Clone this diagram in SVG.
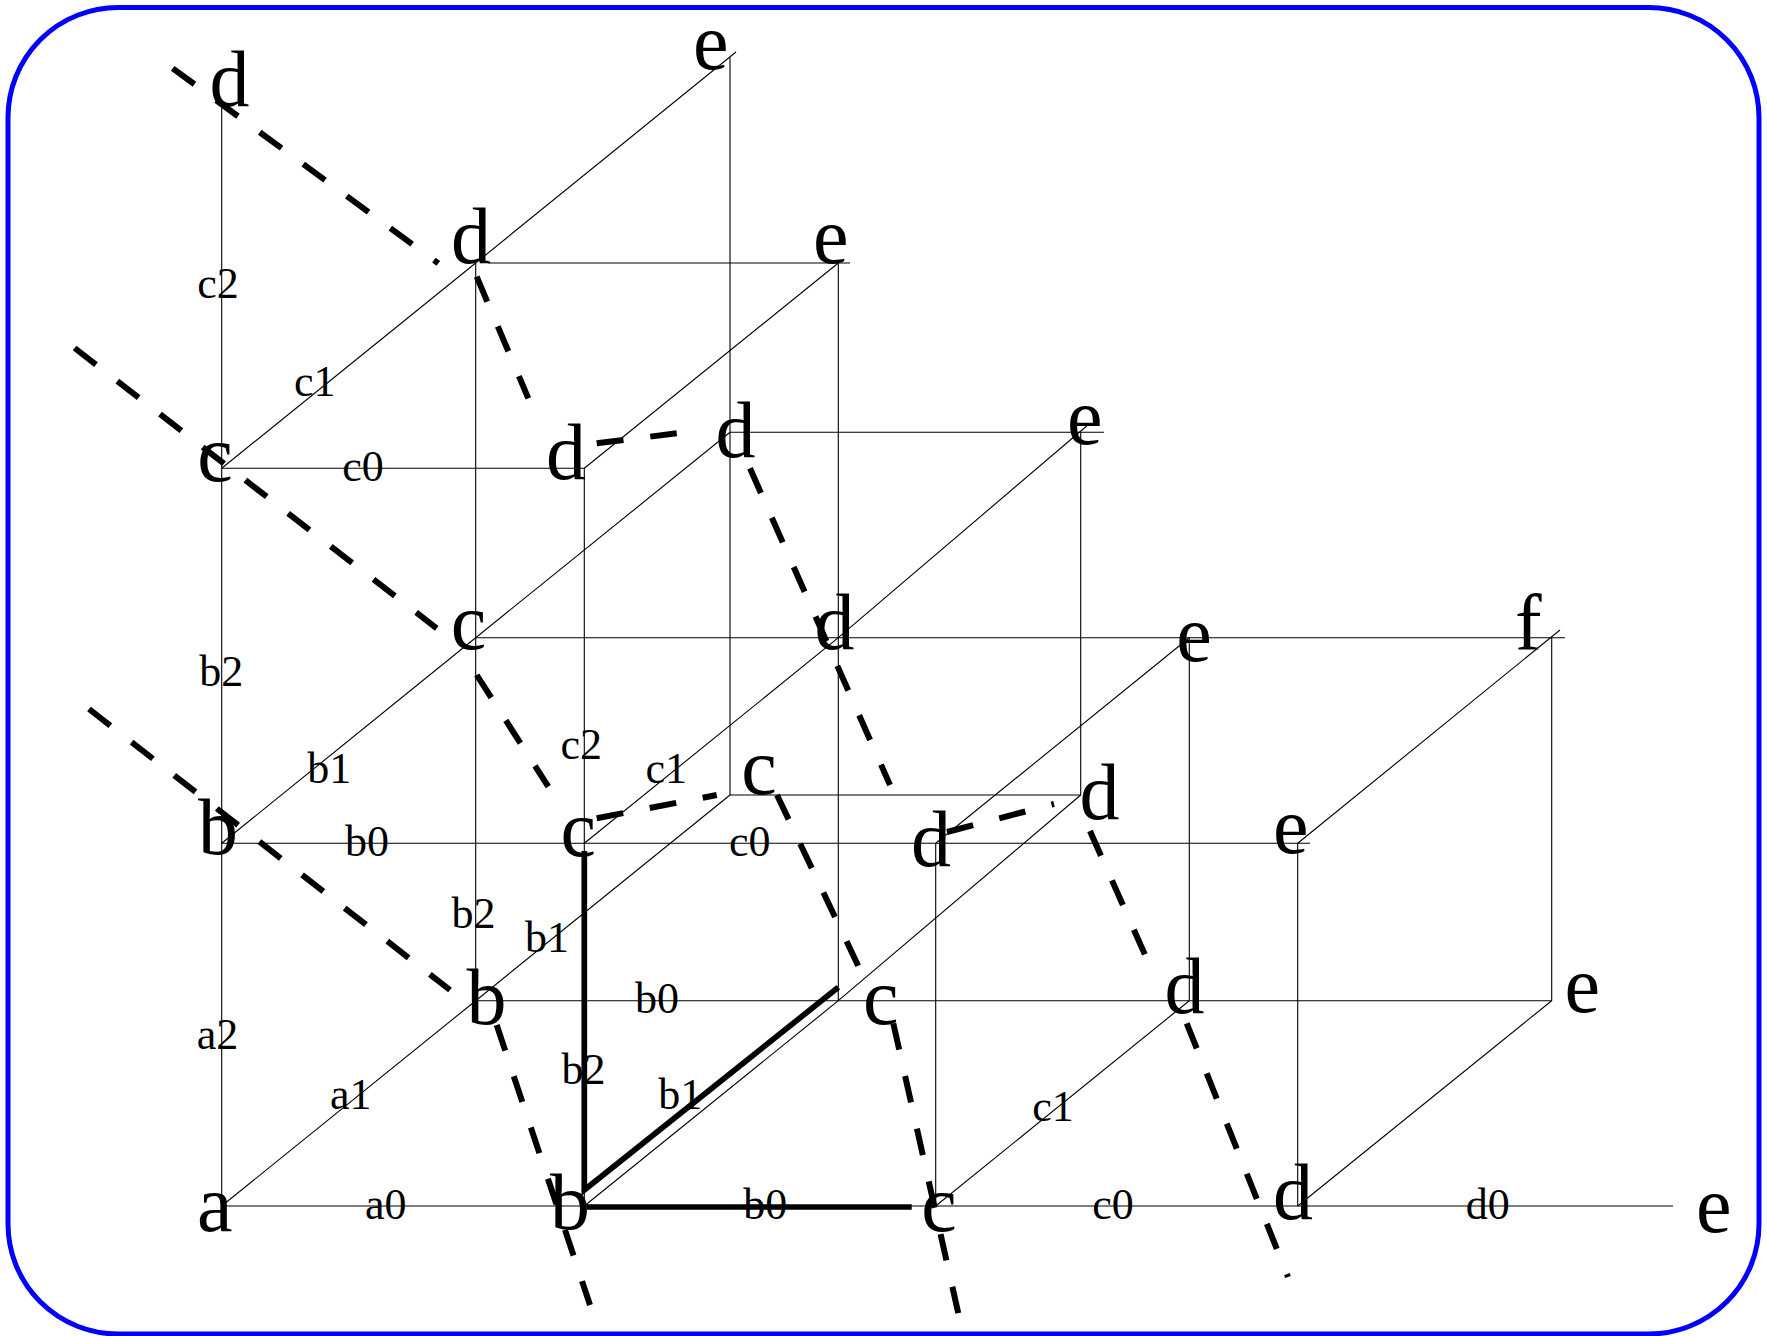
<svg xmlns="http://www.w3.org/2000/svg" width="1767" height="1336" viewBox="0 0 1767 1336">
<style>
.e{stroke:#000;stroke-width:1.1;fill:none}
.t{stroke:#000;stroke-width:5.7;fill:none;stroke-linejoin:miter}
.k{stroke:#000;stroke-width:6;stroke-dasharray:27 27;fill:none}
.v{font-family:"Liberation Serif","Times New Roman",serif;font-size:80px;fill:#000}
.l{font-family:"Liberation Serif","Times New Roman",serif;font-size:44px;fill:#000}
</style>
<rect x="8" y="7.5" width="1751" height="1326.5" rx="110" ry="110" fill="#fff" stroke="#0000ff" stroke-width="5"/>
<g id="connectors">
<path class="e" d="M221.7 1206H1673M475.7 1000.7H1551.7M730 795H1080.7M221.7 843.3H1310M475.7 637.7H1565M730 432.3H1104M221.7 468.3H585M488 263H850"/>
<path class="e" d="M221.7 108V1206M584.3 468.3V1206M935.7 843.3V1206M1297.7 843.3V1206M475.7 263V1000.7M838.3 263V1000.7M1189.3 637.7V1000.7M1551.7 637.7V1000.7M730 57.3V795M1080.7 432.3V795"/>
<path class="e" d="M221.7 1206L475.7 1000.7L730 795M584.3 1206L838.3 1000.7L1080.7 795M935.7 1206L1189.3 1000.7M1297.7 1206L1551.7 1000.7M221.7 843.3L475.7 637.7L730 432.3M584.3 843.3L838.3 637.7L1086.7 426M935.7 843.3L1189.3 637.7M1297.7 843.3L1560 630M221.7 468.3L475.7 263L736 52M584.3 468.3L838.3 263"/>
<path class="t" d="M584.3 851V1190L838.3 987.3M586.7 1207H911.7"/>
<g id="cut-d">
<line class="k" x1="172.7" y1="68.3" x2="438.3" y2="263.3"/>
<line class="k" x1="476.7" y1="276.7" x2="528.3" y2="398.3"/>
<line class="k" x1="596.7" y1="443.3" x2="676.7" y2="433.3"/>
<line class="k" x1="750" y1="468.3" x2="890" y2="785"/>
<line class="k" x1="947" y1="832" x2="1054" y2="804"/>
<line class="k" x1="1090" y1="831" x2="1146" y2="957"/>
<line class="k" x1="1186.7" y1="1023.3" x2="1288" y2="1277"/>
</g>
<g id="cut-c">
<line class="k" x1="74.6" y1="348" x2="436.7" y2="628.3"/>
<line class="k" x1="476.7" y1="675" x2="548.3" y2="786.7"/>
<line class="k" x1="596.7" y1="818.3" x2="716.7" y2="795"/>
<line class="k" x1="777" y1="795" x2="858.3" y2="966"/>
<line class="k" x1="893.3" y1="1023.3" x2="958.3" y2="1313.3"/>
</g>
<g id="cut-b">
<line class="k" x1="89" y1="709" x2="450" y2="990"/>
<line class="k" x1="496.7" y1="1025" x2="590" y2="1305"/>
</g>
<g id="edge-labels" class="l">
<text x="197.2" y="297.7">c2</text>
<text x="293.9" y="396">c1</text>
<text x="342.2" y="481">c0</text>
<text x="199.2" y="686">b2</text>
<text x="307.2" y="782.7">b1</text>
<text x="344.9" y="856">b0</text>
<text x="560.6" y="759.4">c2</text>
<text x="645.6" y="782.7">c1</text>
<text x="728.9" y="856">c0</text>
<text x="196.7" y="1049.4">a2</text>
<text x="330.1" y="1109.4">a1</text>
<text x="365.1" y="1219.4">a0</text>
<text x="451.6" y="927.7">b2</text>
<text x="524.9" y="952.4">b1</text>
<text x="634.9" y="1012.7">b0</text>
<text x="561.6" y="1084.4">b2</text>
<text x="658.2" y="1109.4">b1</text>
<text x="743.2" y="1219.4">b0</text>
<text x="1032.2" y="1121">c1</text>
<text x="1092.2" y="1219.4">c0</text>
<text x="1465.8" y="1218.5">d0</text>
</g>
</g>
<g id="n000" class="v"><text x="197" y="1231">a</text></g>
<g id="n100" class="v"><text x="550" y="1229">b</text></g>
<g id="n010" class="v"><text x="466.5" y="1024">b</text></g>
<g id="n001" class="v"><text x="198" y="854">b</text></g>
<g id="n200" class="v"><text x="921.3" y="1231">c</text></g>
<g id="n110" class="v"><text x="863" y="1024">c</text></g>
<g id="n020" class="v"><text x="741.3" y="794">c</text></g>
<g id="n101" class="v"><text x="560.6" y="856">c</text></g>
<g id="n011" class="v"><text x="450.7" y="649">c</text></g>
<g id="n002" class="v"><text x="197.3" y="481">c</text></g>
<g id="n300" class="v"><text x="1273" y="1219">d</text></g>
<g id="n210" class="v"><text x="1164.5" y="1012.5">d</text></g>
<g id="n120" class="v"><text x="1079.5" y="819">d</text></g>
<g id="n201" class="v"><text x="911" y="866">d</text></g>
<g id="n111" class="v"><text x="814.5" y="649">d</text></g>
<g id="n021" class="v"><text x="715.5" y="457">d</text></g>
<g id="n102" class="v"><text x="546" y="479">d</text></g>
<g id="n012" class="v"><text x="451" y="262.5">d</text></g>
<g id="n003" class="v"><text x="209.5" y="106">d</text></g>
<g id="n400" class="v"><text x="1696" y="1231.5">e</text></g>
<g id="n310" class="v"><text x="1564.4" y="1012">e</text></g>
<g id="n301" class="v"><text x="1273" y="852.5">e</text></g>
<g id="n211" class="v"><text x="1176.3" y="661">e</text></g>
<g id="n121" class="v"><text x="1067" y="443.5">e</text></g>
<g id="n112" class="v"><text x="813" y="262.5">e</text></g>
<g id="n022" class="v"><text x="693" y="69">e</text></g>
<g id="n311" class="v"><text x="1515" y="649.5">f</text></g>
</svg>
